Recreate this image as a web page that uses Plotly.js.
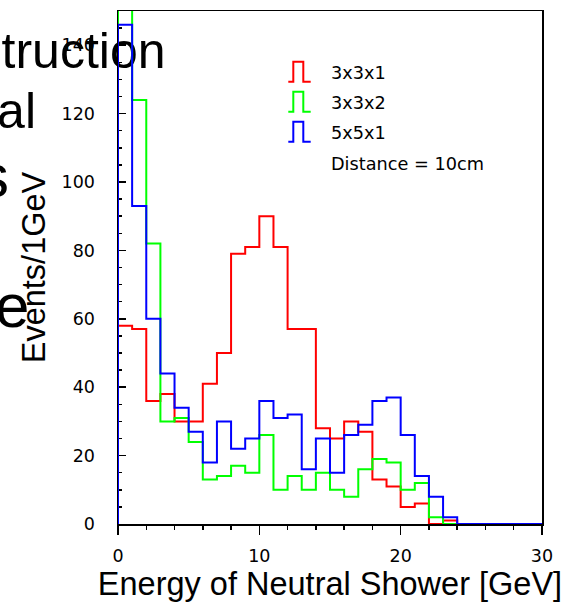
<!DOCTYPE html>
<html>
<head>
<meta charset="utf-8">
<script src="https://cdn.plot.ly/plotly-3.0.1.min.js"></script>
<style>
  html, body { margin: 0; padding: 0; background: #ffffff; overflow: hidden; }
  #wrap { position: relative; width: 579px; height: 602px; }
  .slide { position: absolute; width: 1000px; text-align: right; white-space: nowrap;
           font-family: "Liberation Sans", Arial, sans-serif; color: #000; z-index: 0; }
  #chart { position: absolute; left: 0; top: 0; width: 579px; height: 602px; z-index: 1; }
</style>
</head>
<body>
<div id="wrap">
  <!-- slide title fragments sitting behind the plot -->
  <div class="slide" style="left:-834.5px; top:25.7px; font-size:50px; line-height:50px;">truction</div>
  <div class="slide" style="left:-964px; top:85.7px; font-size:50px; line-height:50px;">al</div>
  <div class="slide" style="left:-991px; top:144.5px; font-size:62px; line-height:62px;">s</div>
  <div class="slide" style="left:-970.5px; top:274.5px; font-size:62px; line-height:62px;">e</div>
  <div id="chart"></div>
</div>
<script>
// Histogram binning: 30 bins of 1 GeV from 0 to 30 GeV
const binStart = 0;
const binWidth = 1;

// Events per 1 GeV bin for each calorimeter cluster size
const counts3x3x1 = [58, 57, 36, 38, 30, 30, 41, 50, 79, 81, 90, 81, 57, 57, 28, 25, 30, 27, 13, 11, 5, 6, 0, 1, 0, 0, 0, 0, 0, 0];
const counts3x3x2 = [165, 124, 82, 30, 31, 24, 13, 14, 17, 15, 26, 10, 14, 10, 15, 10, 8, 16, 19, 18, 10, 12, 2, 0, 0, 0, 0, 0, 0, 0];
const counts5x5x1 = [146, 93, 60, 44, 34, 27, 18, 30, 22, 25, 36, 31, 32, 16, 25, 15, 26, 29, 36, 37, 26, 14, 8, 2, 0, 0, 0, 0, 0, 0];

const seriesNames = ["3x3x1", "3x3x2", "5x5x1"];
const seriesColors = ["#ff0000", "#00ff00", "#0000ff"];
const seriesCounts = [counts3x3x1, counts3x3x2, counts5x5x1];
const distanceLabel = "Distance = 10cm";

const xTickVals = [0, 10, 20, 30];
const yTickVals = [0, 20, 40, 60, 80, 100, 120, 140];

// Outline of a histogram: rise from zero at the first edge, step across each bin
function stepOutline(counts) {
  const xs = [binStart];
  const ys = [0];
  counts.forEach((c, i) => { xs.push(binStart + i * binWidth); ys.push(c); });
  const last = binStart + counts.length * binWidth;
  xs.push(last); ys.push(counts[counts.length - 1]);
  xs.push(last); ys.push(0);
  return { xs, ys };
}

const traces = seriesCounts.map((counts, k) => {
  const o = stepOutline(counts);
  return {
    type: "scatter", mode: "lines", x: o.xs, y: o.ys,
    line: { shape: "hv", color: seriesColors[k], width: 2 },
    name: seriesNames[k], showlegend: false, hoverinfo: "skip"
  };
});

// Plot frame geometry (pixels) used to place the hand-drawn key
const M = { l: 118, r: 37, t: 11, b: 78 };
const W = 579, H = 602;
const pw = W - M.l - M.r, ph = H - M.t - M.b;
const px = v => (v - M.l) / pw;
const py = v => (H - M.b - v) / ph;

// Key: a small pulse glyph in each series colour followed by its label
const shapes = [];
const annotations = [];
seriesNames.forEach((nm, k) => {
  const bottom = 81.7 + 30 * k, top = bottom - 20;
  const pts = [[288.3, bottom], [293.3, bottom], [293.3, top], [303.3, top], [303.3, bottom], [310.7, bottom]];
  const path = pts.map((p, i) => (i ? "L" : "M") + px(p[0]).toFixed(5) + "," + py(p[1]).toFixed(5)).join(" ");
  shapes.push({ type: "path", xref: "paper", yref: "paper", path: path,
                line: { color: seriesColors[k], width: 2 } });
  annotations.push({ xref: "paper", yref: "paper", x: px(329), y: py(73 + 30 * k),
                     xanchor: "left", yanchor: "middle", showarrow: false, text: nm,
                     font: { family: "DejaVu Sans", size: 17.7, color: "#000" } });
});
annotations.push({ xref: "paper", yref: "paper", x: px(329), y: py(164),
                   xanchor: "left", yanchor: "middle", showarrow: false, text: distanceLabel,
                   font: { family: "DejaVu Sans", size: 17.7, color: "#000" } });

const tickFont = { family: "DejaVu Sans", size: 17.5, color: "#000" };
const titleFont = { family: "Liberation Sans, Arial, sans-serif", size: 32.5, color: "#000" };

const layout = {
  width: W, height: H,
  margin: M,
  paper_bgcolor: "rgba(0,0,0,0)",
  plot_bgcolor: "rgba(0,0,0,0)",
  showlegend: false,
  xaxis: {
    range: [0, 30], tickvals: xTickVals, ticktext: xTickVals.map(String),
    ticks: "outside", ticklen: 9, tickwidth: 1.5, tickcolor: "#000",
    minor: { dtick: 2, ticks: "outside", ticklen: 4, tickwidth: 1.5, tickcolor: "#000", showgrid: false },
    showline: true, linecolor: "#000", linewidth: 1.5, mirror: true,
    showgrid: false, zeroline: false, layer: "below traces",
    tickfont: tickFont, ticklabelstandoff: 6,
    title: { text: "Energy of Neutral Shower [GeV]", font: titleFont, standoff: 4 }
  },
  yaxis: {
    range: [0, 150], tickvals: yTickVals, ticktext: yTickVals.map(String),
    ticks: "inside", ticklen: 8, tickwidth: 1.5, tickcolor: "#000",
    minor: { dtick: 5, ticks: "inside", ticklen: 4, tickwidth: 1.5, tickcolor: "#000", showgrid: false },
    showline: true, linecolor: "#000", linewidth: 1.5, mirror: true,
    showgrid: false, zeroline: false, layer: "below traces",
    tickfont: tickFont, ticklabelstandoff: 18,
    title: { text: "Events/1GeV", font: titleFont, standoff: 6 }
  },
  shapes: shapes,
  annotations: annotations
};

Plotly.newPlot("chart", traces, layout, { displayModeBar: false, staticPlot: true });
</script>
</body>
</html>
